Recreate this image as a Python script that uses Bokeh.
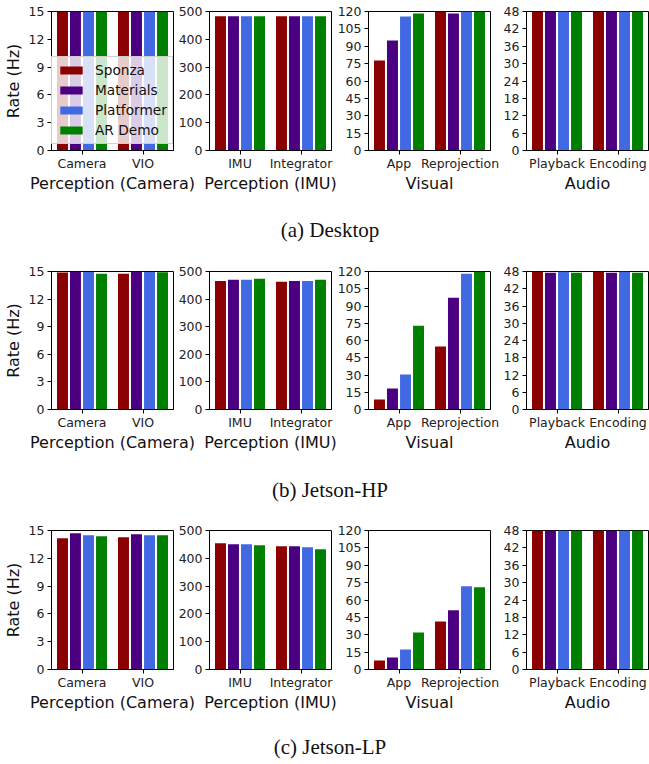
from bokeh.plotting import figure
from bokeh.models import Range1d, FixedTicker, Legend, LegendItem, Div
from bokeh.layouts import column, row
from bokeh.embed import file_html
from bokeh.resources import INLINE

# ---------------- data ----------------
series = ["Sponza", "Materials", "Platformer", "AR Demo"]
colors = ["#8b0000", "#4b0082", "#4169e1", "#008000"]

groups = ["Perception (Camera)", "Perception (IMU)", "Visual", "Audio"]
tasks = [["Camera", "VIO"], ["IMU", "Integrator"], ["App", "Reprojection"], ["Playback", "Encoding"]]
y_max = [15, 500, 120, 48]
y_step = [3, 100, 15, 6]
captions = ["(a) Desktop", "(b) Jetson-HP", "(c) Jetson-LP"]

# values in series order: Sponza, Materials, Platformer, AR Demo
desktop_camera = [15, 15, 15, 15]
desktop_vio = [15, 15, 15, 15]
desktop_imu = [483, 483, 483, 483]
desktop_integrator = [483, 483, 483, 483]
desktop_app = [77.6, 94.9, 115.7, 118.3]
desktop_reprojection = [120, 118.3, 120, 120]
desktop_playback = [48, 48, 48, 48]
desktop_encoding = [48, 48, 48, 48]

hp_camera = [14.9, 15.0, 14.95, 14.75]
hp_vio = [14.75, 15.0, 14.95, 14.93]
hp_imu = [466, 470, 470, 473.5]
hp_integrator = [462.6, 466, 466, 470]
hp_app = [8.7, 18.2, 30.4, 72.9]
hp_reprojection = [54.7, 97.2, 118, 120]
hp_playback = [48, 47.6, 48, 47.6]
hp_encoding = [48, 47.6, 48, 47.6]

lp_camera = [14.17, 14.71, 14.5, 14.39]
lp_vio = [14.28, 14.6, 14.5, 14.5]
lp_imu = [454, 450.7, 450.7, 447]
lp_integrator = [443.5, 443.5, 440, 432.7]
lp_app = [7.8, 10.4, 17.3, 32]
lp_reprojection = [41.5, 51.1, 71.8, 71]
lp_playback = [48, 48, 48, 48]
lp_encoding = [48, 48, 48, 48]

platform_data = [
    [(desktop_camera, desktop_vio), (desktop_imu, desktop_integrator),
     (desktop_app, desktop_reprojection), (desktop_playback, desktop_encoding)],
    [(hp_camera, hp_vio), (hp_imu, hp_integrator),
     (hp_app, hp_reprojection), (hp_playback, hp_encoding)],
    [(lp_camera, lp_vio), (lp_imu, lp_integrator),
     (lp_app, lp_reprojection), (lp_playback, lp_encoding)],
]

offsets = [-0.32, -0.107, 0.107, 0.32]
bar_width = 0.18
FONT = "DejaVu Sans"
OVERLAP = 40

row_geom = [  # (top border, frame height, bottom border)
    (11, 139, 55),
    (11, 138, 55),
    (10, 139, 55),
]
caption_geom = [(55, 15), (56, 16), (38, 13)]  # (div height, padding top)
left_borders = [51, 36, 37, 36]


def make_panel(r, k, vals, show_legend):
    top, fh, bottom = row_geom[r]
    p = figure(frame_width=122, frame_height=fh,
               x_range=Range1d(-0.5, 1.5), y_range=Range1d(0, y_max[k]),
               output_backend="svg", toolbar_location=None,
               min_border_left=left_borders[k],
               min_border_right=1 if k == 3 else OVERLAP,
               min_border_top=top, min_border_bottom=bottom,
               margin=(0, 0, 0, 0 if k == 0 else -OVERLAP))
    p.border_fill_color = None
    p.background_fill_color = "white"
    renderers = []
    for s in range(4):
        xs = [0 + offsets[s], 1 + offsets[s]]
        tops = [vals[0][s], vals[1][s]]
        rr = p.vbar(x=xs, top=tops, width=bar_width, bottom=0,
                    fill_color=colors[s], line_color=None)
        renderers.append(rr)
    p.xgrid.visible = False
    p.ygrid.visible = False
    p.outline_line_color = "black"
    p.outline_line_alpha = 1
    p.outline_line_width = 1

    p.xaxis.ticker = FixedTicker(ticks=[0, 1])
    p.xaxis.major_label_overrides = {0: tasks[k][0], 1: tasks[k][1]}
    p.yaxis.ticker = FixedTicker(ticks=list(range(0, y_max[k] + 1, y_step[k])))
    p.xaxis.axis_label = groups[k]
    if k == 0:
        p.yaxis.axis_label = "Rate (Hz)"
    for ax in (p.xaxis[0], p.yaxis[0]):
        ax.axis_line_color = "black"
        ax.major_tick_line_color = "black"
        ax.major_tick_out = 4
        ax.major_tick_in = 0
        ax.minor_tick_out = 0
        ax.minor_tick_in = 0
        ax.major_label_text_font = FONT
        ax.major_label_text_font_size = "12.5px"
        ax.major_label_text_color = "#222222"
        ax.axis_label_text_font = FONT
        ax.axis_label_text_font_size = "16px"
        ax.axis_label_text_font_style = "normal"
        ax.axis_label_text_color = "#111111"
    p.xaxis[0].major_label_standoff = 1
    p.xaxis[0].axis_label_standoff = 0
    p.yaxis[0].major_label_standoff = 3
    p.yaxis[0].axis_label_standoff = 3
    if show_legend:
        legend = Legend(items=[LegendItem(label=series[s], renderers=[renderers[s]]) for s in range(4)],
                        location=(0, 6), margin=0, padding=5, spacing=4,
                        glyph_width=28, glyph_height=10, label_standoff=10,
                        label_text_font=FONT, label_text_font_size="13.7px",
                        label_text_color="#111111",
                        background_fill_color="white", background_fill_alpha=0.8,
                        border_line_color="#cccccc", border_line_alpha=0.9)
        p.add_layout(legend)
    return p


items = []
for r in range(3):
    figs = [make_panel(r, k, platform_data[r][k], r == 0 and k == 0) for k in range(4)]
    items.append(row(*figs, spacing=0))
    h, pad = caption_geom[r]
    items.append(Div(text=(
        '<div style="width:649px;box-sizing:border-box;padding-top:%dpx;padding-left:11px;'
        'text-align:center;font-family:\'Liberation Serif\',serif;font-size:21px;'
        'line-height:21px;color:#111">%s</div>' % (pad, captions[r])),
        width=649, height=h, margin=0))

layout = column(*items, spacing=0)
open("out.html", "w").write(file_html(layout, INLINE))
